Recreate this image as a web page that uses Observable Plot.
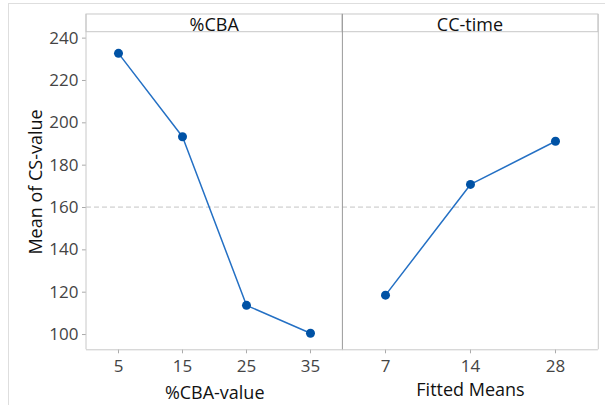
<!DOCTYPE html>
<html>
<head>
<meta charset="utf-8">
<script src="https://cdn.jsdelivr.net/npm/d3@7"></script>
<script src="https://cdn.jsdelivr.net/npm/@observablehq/plot@0.6"></script>
<style>
  html, body { margin: 0; padding: 0; background: #fff; }
  #chart { position: relative; width: 605px; height: 405px; overflow: hidden; font-family: "Open Sans", sans-serif; }
  #chart svg { position: absolute; top: 0; overflow: visible; }
  #edge { position: absolute; left: 8px; top: 3px; width: 620px; height: 420px; border-top: 1px solid #dedede; border-left: 1px solid #dedede; }
</style>
</head>
<body>
<div id="chart"><div id="edge"></div></div>
<script>
// Data
const cbaLevels = ["5", "15", "25", "35"];
const cbaMeans = [232.8, 193.4, 113.8, 100.6];
const timeLevels = ["7", "14", "28"];
const timeMeans = [118.6, 170.9, 191.3];
const grandMean = 160.2;
const yTicks = [100, 120, 140, 160, 180, 200, 220, 240];
const panelTitles = ["%CBA", "CC-time"];
const xLabels = ["%CBA-value", "Fitted Means"];
const yLabel = "Mean of CS-value";

const yDomain = [92.8, 242.8];
const lineColor = "#2470c4";
const dotColor = "#0052a5";
const tickColor = "#444";

function panel({levels, means, title, xLabel, width, marginLeft, marginRight, left, showY, labelDy}) {
  const data = levels.map((l, i) => ({level: l, mean: means[i]}));
  const marks = [
    Plot.ruleY([grandMean], {stroke: "#c4c4c4", strokeDasharray: "5,3", strokeWidth: 1}),
    Plot.line(data, {x: "level", y: "mean", stroke: lineColor, strokeWidth: 1.5}),
    Plot.dot(data, {x: "level", y: "mean", r: 4.5, fill: dotColor}),
    Plot.axisX({tickSize: 4, tickPadding: 6, fontSize: 17, label: null, stroke: "#aaa", color: tickColor}),
    Plot.ruleY([yDomain[0]], {stroke: "#c8c8c8"}),
    Plot.text([xLabel], {frameAnchor: "bottom", dy: labelDy, fontSize: 18, textAnchor: "middle", lineAnchor: "middle", fill: "#111"})
  ];
  if (showY) {
    marks.push(
      Plot.axisY(yTicks, {tickSize: 4, tickPadding: 4, fontSize: 17, label: null, stroke: "#aaa", color: tickColor}),
      Plot.text([yLabel], {frameAnchor: "left", rotate: -90, dx: -50, dy: -9, fontSize: 18, textAnchor: "middle", fill: "#111"})
    );
  } else {
    marks.push(Plot.axisY({ticks: [], label: null}));
  }
  const svg = Plot.plot({
    width, height: 405,
    marginLeft, marginRight, marginTop: 31.7, marginBottom: 405 - 349.3,
    x: {type: "point", domain: levels, padding: 0.5},
    y: {domain: yDomain},
    style: {fontFamily: "Open Sans, sans-serif", background: "transparent", overflow: "visible"},
    marks
  });
  svg.style.left = left + "px";
  // Panel header strip
  const s = d3.select(svg);
  const x0 = marginLeft, x1 = width - marginRight;
  s.append("rect").attr("x", x0).attr("y", 14).attr("width", x1 - x0).attr("height", 17.7)
    .attr("fill", "none").attr("stroke", "#c8c8c8");
  s.append("text").attr("x", (x0 + x1) / 2).attr("y", 31).attr("text-anchor", "middle")
    .attr("font-size", 18).attr("fill", "#111").attr("font-family", "Open Sans, sans-serif").text(title);
  return svg;
}

const chart = document.getElementById("chart");
chart.appendChild(panel({levels: cbaLevels, means: cbaMeans, title: panelTitles[0], xLabel: xLabels[0],
  width: 342.4, marginLeft: 86, marginRight: 0, left: 0, showY: true, labelDy: 43}));
chart.appendChild(panel({levels: timeLevels, means: timeMeans, title: panelTitles[1], xLabel: xLabels[1],
  width: 605 - 342.4, marginLeft: 0, marginRight: 605 - 598.3, left: 342.4, showY: false, labelDy: 40}));
// panel frame lines
const dv = d3.select(chart).append("svg").attr("width", 605).attr("height", 405).style("left", "0px").style("pointer-events", "none");
dv.append("line").attr("x1", 86).attr("x2", 86).attr("y1", 14).attr("y2", 349.3).attr("stroke", "#c8c8c8");
dv.append("line").attr("x1", 342.4).attr("x2", 342.4).attr("y1", 14).attr("y2", 349.3).attr("stroke", "#9a9a9a");
dv.append("line").attr("x1", 598.3).attr("x2", 598.3).attr("y1", 14).attr("y2", 349.3).attr("stroke", "#c8c8c8");
</script>
</body>
</html>
